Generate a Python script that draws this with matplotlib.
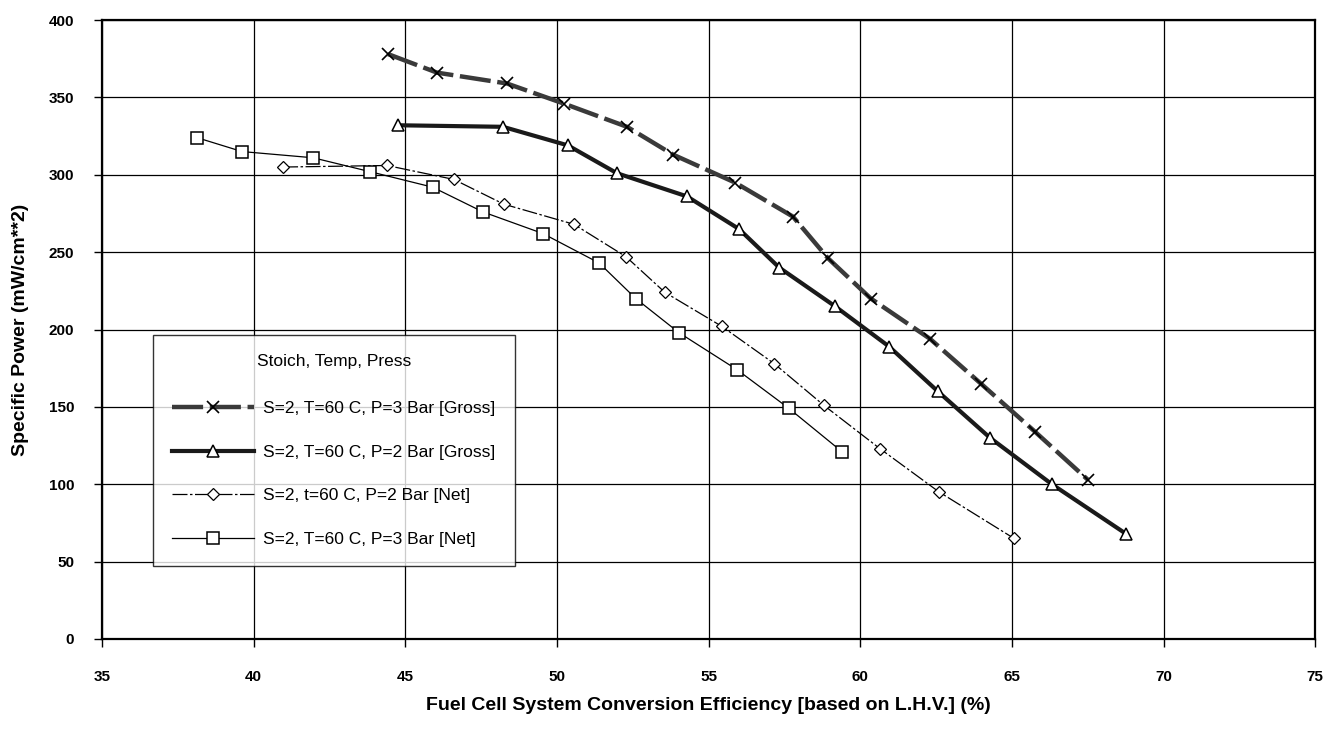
import matplotlib
matplotlib.use("Agg")
import matplotlib.pyplot as plt

plt.rcParams['font.family'] = ['Liberation Sans', 'DejaVu Sans']

# Gross, P=3 bar (x markers)
gross3_eff = [44.43, 46.05, 48.35, 50.23, 52.31, 53.83, 55.87, 57.78, 58.94, 60.35, 62.3, 63.98, 65.76, 67.5]
gross3_pow = [378, 366, 359, 346, 331, 313, 295, 273, 246, 220, 194, 165, 134, 103]

# Gross, P=2 bar (triangles)
gross2_eff = [44.76, 48.22, 50.36, 51.98, 54.29, 56.0, 57.33, 59.17, 60.95, 62.56, 64.28, 66.32, 68.76]
gross2_pow = [332, 331, 319, 301, 286, 265, 240, 215, 189, 160, 130, 100, 68]

# Net, P=2 bar (diamonds)
net2_eff = [40.97, 44.4, 46.6, 48.25, 50.56, 52.28, 53.56, 55.44, 57.16, 58.8, 60.65, 62.6, 65.07]
net2_pow = [305, 306, 297, 281, 268, 247, 224, 202, 178, 151, 123, 95, 65]

# Net, P=3 bar (squares)
net3_eff = [38.13, 39.62, 41.96, 43.84, 45.9, 47.56, 49.54, 51.39, 52.6, 54.02, 55.94, 57.65, 59.4]
net3_pow = [324, 315, 311, 302, 292, 276, 262, 243, 220, 198, 174, 149, 121]

labels = ["S=2, T=60 C, P=3 Bar [Gross]",
          "S=2, T=60 C, P=2 Bar [Gross]",
          "S=2, t=60 C, P=2 Bar [Net]",
          "S=2, T=60 C, P=3 Bar [Net]"]

fig = plt.figure(figsize=(13.42, 7.29), dpi=100)
ax = fig.add_axes([0.076, 0.1235, 0.904, 0.849])

ax.plot(gross3_eff, gross3_pow, color='#3a3a3a', lw=3.2, ls=(0, (7, 1.5)),
        marker='x', ms=9, mew=1.2, mec='black', label=labels[0])
ax.plot(gross2_eff, gross2_pow, color='#1a1a1a', lw=3.0, ls='-',
        marker='^', ms=9, mfc='white', mec='black', mew=1.1, label=labels[1])
ax.plot(net2_eff, net2_pow, color='black', lw=0.9, ls=(0, (12, 2, 2, 2)),
        marker='D', ms=6, mfc='white', mec='black', mew=0.9, label=labels[2])
ax.plot(net3_eff, net3_pow, color='black', lw=0.9, ls='-',
        marker='s', ms=9, mfc='white', mec='black', mew=1.1, label=labels[3])

ax.set_xlim(35, 75)
ax.set_ylim(0, 400)
ax.set_xticks(range(35, 76, 5))
ax.set_yticks(range(0, 401, 50))
ax.grid(True, color='black', lw=0.9)
ax.set_axisbelow(True)
for s in ax.spines.values():
    s.set_linewidth(1.6)
    s.set_color('black')

ax.tick_params(axis='x', direction='out', length=6, width=1, pad=16, labelsize=11)
ax.tick_params(axis='y', direction='out', length=6, width=1, pad=14, labelsize=11)
for t in ax.get_xticklabels() + ax.get_yticklabels():
    t.set_fontweight('bold')

ax.set_xlabel("Fuel Cell System Conversion Efficiency [based on L.H.V.] (%)",
              fontsize=14, fontweight='bold', labelpad=10)
ax.set_ylabel("Specific Power (mW/cm**2)", fontsize=14, fontweight='bold', labelpad=14)

leg = ax.legend(loc='upper left', bbox_to_anchor=(0.042, 0.491), title="Stoich, Temp, Press",
                fontsize=12.5, title_fontsize=12.5, frameon=True, fancybox=False,
                edgecolor='black', handlelength=4.7, labelspacing=1.63,
                borderpad=1.1, handletextpad=0.55, borderaxespad=0)
leg.get_frame().set_linewidth(1.0)
leg._legend_box.sep = 23

fig.savefig("out.png", dpi=100)
